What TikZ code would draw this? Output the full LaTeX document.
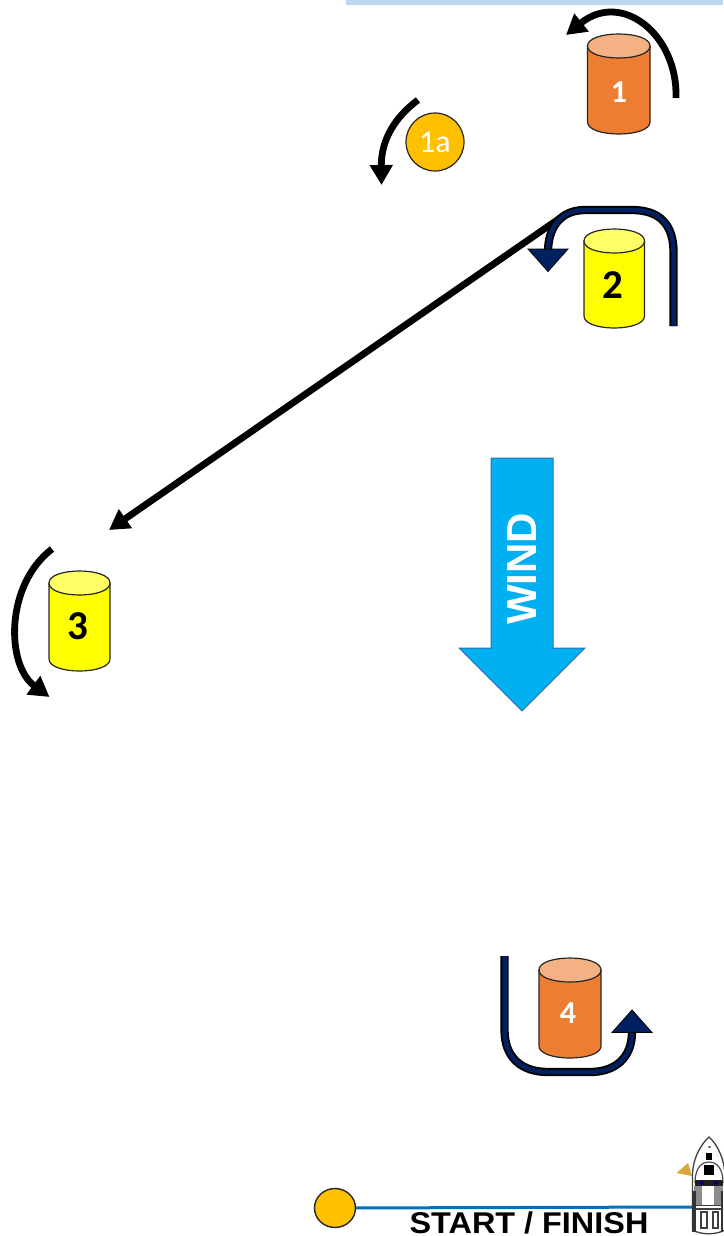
\documentclass[tikz,border=0pt]{standalone}
\usepackage{fontspec}
\setmainfont{Carlito}
\newfontfamily\arialf{Liberation Sans}
\usetikzlibrary{arrows.meta,shapes.geometric}
\definecolor{orangec}{HTML}{ED7D31}
\definecolor{orangetop}{HTML}{F4B183}
\definecolor{yellowc}{HTML}{FFFF00}
\definecolor{yellowtop}{HTML}{FFFF66}
\definecolor{goldc}{HTML}{FFC000}
\definecolor{navyc}{HTML}{002060}
\definecolor{windc}{HTML}{00B0F0}
\definecolor{windedge}{HTML}{2F6FA8}
\definecolor{barc}{HTML}{BDD7EE}
\definecolor{linec}{HTML}{0070C0}
\definecolor{flagc}{HTML}{D9A63A}
\newcommand\drumart[6]{% left, right, top, bottom, body colour, end colour
  \pgfmathsetmacro\dtA{#3+12}\pgfmathsetmacro\dtB{#3+12+16}\pgfmathsetmacro\dtC{#3+12-16}%
  \pgfmathsetmacro\dbA{#4-12}\pgfmathsetmacro\dbB{#4-12+16}%
  \draw[drumline,fill=#5] (#1,\dtA) -- (#1,\dbA) .. controls (#1,\dbB) and (#2,\dbB) .. (#2,\dbA) -- (#2,\dtA) -- cycle;
  \draw[drumline,fill=#6] (#1,\dtA) .. controls (#1,\dtB) and (#2,\dtB) .. (#2,\dtA) .. controls (#2,\dtC) and (#1,\dtC) .. (#1,\dtA) -- cycle;
}
\tikzset{
  x=1pt,y=-1pt,
  drumline/.style={draw=black!85,line width=1.2pt},
  whitelabel/.style={text=white,font=\fontsize{32}{32}\selectfont\bfseries,inner sep=0pt},
  blacklabel/.style={text=black,font=\fontsize{41}{41}\selectfont\bfseries,inner sep=0pt},
  blackarrow/.style={draw=black,line width=6.8pt,-{Triangle[length=20pt,width=22pt]}},
  navyout/.style={draw=black,line width=8.3pt},
  navyin/.style={draw=navyc,line width=4.5pt},
  navyhead/.style={fill=navyc,draw=black,line width=0.8pt,line join=miter},
  mark1a/.style={circle,draw=black!85,line width=1.2pt,fill=goldc,minimum size=58pt,inner sep=0pt,text=white,font=\fontsize{32}{32}\selectfont},
  startbuoy/.style={ellipse,draw=black!85,line width=1.4pt,fill=goldc,minimum width=41pt,minimum height=39pt,inner sep=0pt},
  windarrow/.style={fill=windc,draw=windedge,line width=1pt},
  boatline/.style={draw=black!75,line width=1.1pt}
}
\begin{document}
\begin{tikzpicture}
\useasboundingbox (0,0) rectangle (723,1236);
\fill[barc] (346,0) rectangle (723,5);

% drums
\drumart{587.5}{650}{34}{134}{orangec}{orangetop}
\drumart{584}{644.5}{229}{328}{yellowc}{yellowtop}
\drumart{49}{110}{571}{671}{yellowc}{yellowtop}
\drumart{539}{601}{958}{1058}{orangec}{orangetop}
\node[whitelabel] (d1) at (619,92) {1};
\node[blacklabel] (d2) at (613,285) {2};
\node[blacklabel] (d3) at (78,626) {3};
\node[whitelabel] (d4) at (568,1013) {4};
\node[mark1a] (m1a) at (435,142) {1a};

% black arrows
\coordinate (a1s) at (676,98);
\coordinate (a1e) at (566,35);
\draw[blackarrow] (a1s) .. controls (678,35) and (622,-10) .. (a1e);
\coordinate (a1as) at (418,100);
\coordinate (a1ae) at (381.5,185);
\draw[blackarrow] (a1as) .. controls (395,117) and (381,140) .. (a1ae);
\coordinate (a3s) at (52,549);
\coordinate (a3e) at (49.5,697);
\draw[blackarrow] (a3s) .. controls (5,585) and (6,665) .. (a3e);
\coordinate (lns) at (563,216);
\coordinate (lne) at (109,530);
\draw[blackarrow] (lns) -- (lne);

% navy arrows
\coordinate (n2a) at (673.5,326);
\coordinate (n2b) at (548,252);
\draw[navyout] (n2a) -- (673.5,252) .. controls (673.5,225) and (660,210) .. (632,210) -- (585,210) .. controls (560,210) and (548,228) .. (n2b);
\draw[navyin] (n2a) -- (673.5,252) .. controls (673.5,225) and (660,210) .. (632,210) -- (585,210) .. controls (560,210) and (548,228) .. (n2b);
\draw[navyhead] (528,249) -- (568,249) -- (548,271.5) -- cycle;
\coordinate (n4a) at (504.5,956);
\coordinate (n4b) at (632,1032);
\draw[navyout] (n4a) -- (504.5,1030) .. controls (504.5,1058) and (522,1072) .. (548,1072) -- (590,1072) .. controls (615,1072) and (632,1058) .. (n4b);
\draw[navyin] (n4a) -- (504.5,1030) .. controls (504.5,1058) and (522,1072) .. (548,1072) -- (590,1072) .. controls (615,1072) and (632,1058) .. (n4b);
\draw[navyhead] (612,1032.5) -- (652,1032.5) -- (632,1010) -- cycle;

% wind
\draw[windarrow,line join=miter] (491,458) -- (553,458) -- (553,648) -- (585,648) -- (522,711) -- (459,648) -- (491,648) -- cycle;
\node[rotate=90,text=white,font=\arialf\fontsize{42}{42}\selectfont\bfseries,inner sep=0pt] (wind) at (522.5,569) {WIND};

% start line
\node[startbuoy] (buoy) at (335,1208) {};
\coordinate (boatl) at (693,1207);
\draw[linec,line width=3pt] (buoy) -- (boatl);
\node[font=\arialf\fontsize{30}{30}\selectfont\bfseries,text=black,inner sep=0pt,anchor=base,xscale=1.08] (sf) at (529,1233.5) {START / FINISH};

% boat
\fill[flagc] (676.5,1173) -- (688,1163) -- (692,1176) -- cycle;
\draw[boatline,fill=white,line width=1.3pt] (692.5,1230) -- (692.5,1178) .. controls (692,1160) and (700,1145) .. (709,1137) .. controls (718,1145) and (725,1160) .. (725,1178) -- (725,1230) .. controls (716,1235) and (701,1235) .. (692.5,1230) -- cycle;
\draw[boatline] (695,1183) .. controls (695,1170) and (700,1162) .. (709,1162) .. controls (718,1162) and (723,1170) .. (723,1183);
\fill[black!50] (707.5,1146) rectangle (710.5,1148);
\fill[black] (706,1153) rectangle (712,1160);
\fill[black] (704,1165) rectangle (714,1175);
\fill[black!88] (695,1180) rectangle (723,1186);
\fill[blue!50!black] (702,1183) circle (2);
\fill[blue!50!black] (716,1183) circle (2);
\fill[black!45] (694,1186) rectangle (702,1205);
\fill[black!45] (714,1186) rectangle (723,1205);
\draw[boatline] (694,1205.5) -- (723,1205.5) (694,1209) -- (723,1209);
\draw[boatline] (701,1212) rectangle (707,1228) (713,1212) rectangle (718,1228);
\fill[black!80] (692,1191) rectangle (696,1232);
\fill[black!80] (721,1191) rectangle (723,1232);
\end{tikzpicture}
\end{document}
